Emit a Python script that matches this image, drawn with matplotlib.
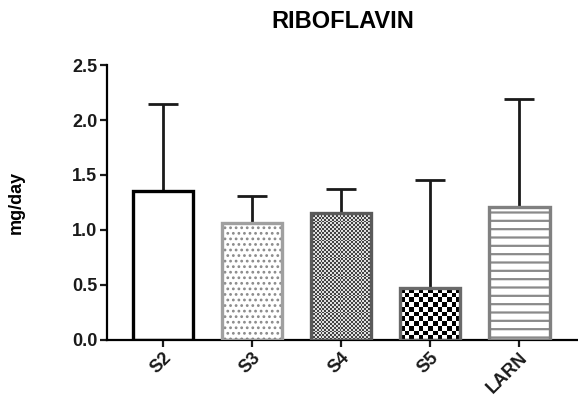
import matplotlib
matplotlib.use("Agg")
import matplotlib.pyplot as plt
import numpy as np
from matplotlib.colors import ListedColormap

categories = ["S2", "S3", "S4", "S5", "LARN"]
means = [1.35, 1.06, 1.15, 0.47, 1.21]
sds = [0.80, 0.25, 0.22, 0.98, 0.98]
edge_colors = ["#000000", "#a0a0a0", "#5a5a5a", "#6a6a6a", "#808080"]
# fill style per bar: plain, hatch or checker (cell size in px, dark colour, light colour)
fill_styles = [("plain",), ("hatch", "...", "#8a8a8a", 1.2), ("checker", 1.9, "#444444", "#e0e0e0"),
               ("checker", 4.7, "#000000", "#ffffff"), ("hatch", "--", "#8a8a8a", 1.6)]

plt.rcParams["font.family"] = ["Liberation Sans", "DejaVu Sans"]

fig = plt.figure(figsize=(5.78, 4.09), dpi=100)
ax = fig.add_axes([0.185, 0.169, 0.815, 0.672])
ymax = 2.5
ax_h_px = 0.672 * 409
ax_w_px = 0.815 * 578
xlo, xhi = -0.63, 4.66
width = 0.68

x = np.arange(len(categories))
ax.errorbar(x, means, yerr=[np.zeros(len(sds)), sds], fmt="none", ecolor="#1a1a1a",
            elinewidth=2.0, capsize=11, capthick=2.0, zorder=1)
for i in range(len(categories)):
    st = fill_styles[i]
    if st[0] == "plain":
        ax.bar(x[i], means[i], width=width, facecolor="white", linewidth=0, zorder=2)
    elif st[0] == "hatch":
        with plt.rc_context({"hatch.linewidth": st[3]}):
            ax.bar(x[i], means[i], width=width, facecolor="white", edgecolor=st[2],
                   hatch=st[1], linewidth=0, zorder=2)
    else:
        cell = st[1]
        w_px = width / (xhi - xlo) * ax_w_px
        h_px = means[i] / ymax * ax_h_px
        nx = max(1, int(round(w_px / cell)))
        ny = max(1, int(round(h_px / cell)))
        checker = np.indices((ny, nx)).sum(axis=0) % 2
        cmap = ListedColormap([st[2], st[3]])
        ax.imshow(checker, extent=(x[i] - width / 2, x[i] + width / 2, 0, means[i]),
                  aspect="auto", interpolation="nearest", cmap=cmap, zorder=2)
    ax.bar(x[i], means[i], width=width, facecolor="none", edgecolor=edge_colors[i],
           linewidth=2.4, zorder=3)

ax.set_xlim(xlo, xhi)
ax.set_ylim(0, ymax)
ax.set_yticks([0.0, 0.5, 1.0, 1.5, 2.0, 2.5])
ax.set_yticklabels(["0.0", "0.5", "1.0", "1.5", "2.0", "2.5"], fontsize=13, fontweight="bold")
ax.set_xticks(x)
ax.set_xticklabels(categories, rotation=45, ha="right", rotation_mode="anchor",
                   fontsize=13, fontweight="bold")
ax.spines["top"].set_visible(False)
ax.spines["right"].set_visible(False)
ax.spines["left"].set_linewidth(1.6)
ax.spines["bottom"].set_linewidth(1.6)
ax.tick_params(axis="both", width=1.6, length=5, colors="#1a1a1a", pad=2)
ax.set_ylabel("mg/day", fontsize=13, fontweight="bold", labelpad=34)
ax.set_title("RIBOFLAVIN", fontsize=17, fontweight="bold", pad=27)

fig.savefig("out.png", dpi=100)
